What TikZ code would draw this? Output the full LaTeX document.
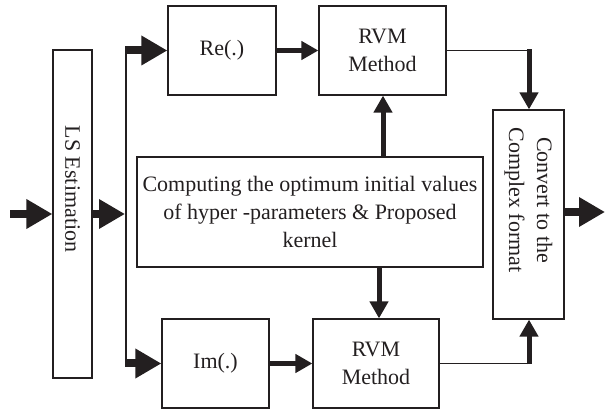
\documentclass[tikz,border=0pt]{standalone}
\usepackage{fontspec}
\setmainfont{Liberation Serif}
\usetikzlibrary{arrows.meta}
\definecolor{ink}{HTML}{231F20}
\begin{document}
\begin{tikzpicture}[x=1pt,y=-1pt,
  txt/.style={font=\fontsize{22}{28}\selectfont, text=ink, align=center, inner sep=0pt},
  box/.style={draw=ink, line width=1.2pt, inner sep=0pt, txt},
  bigarrow/.style={draw=ink, line width=8pt, -{Triangle[length=26pt,width=28pt]}},
  smallarrow/.style={draw=ink, line width=5pt, -{Triangle[length=17pt,width=18pt]}},
  thinline/.style={draw=ink, line width=1.2pt}]
\useasboundingbox (0,0) rectangle (605,411);

% boxes
\node[box, minimum width=39pt, minimum height=328pt] (ls) at (72.5,214) {};
\node[txt, rotate=-90] (lst) at (72.5,189) {LS Estimation};
\node[box, minimum width=108pt, minimum height=89pt] (re) at (222,50.5) {Re(.)};
\node[box, minimum width=127pt, minimum height=89pt] (rvm1) at (382.5,50.5) {RVM\\Method};
\node[box, minimum width=346pt, minimum height=110pt] (cmp) at (310,212)
  {Computing the optimum initial values\\of hyper -parameters \& Proposed\\kernel};
\node[box, minimum width=71pt, minimum height=209pt] (cv) at (528.5,214.5) {};
\node[txt, rotate=-90] (cvt) at (528.5,200) {Convert to the\\Complex format};
\node[box, minimum width=107pt, minimum height=89pt] (im) at (215.5,363.5) {Im(.)};
\node[box, minimum width=126pt, minimum height=89pt] (rvm2) at (376,363.5) {RVM\\Method};

% coordinates
\coordinate (in) at (10,214);
\coordinate (br) at (125,214);
\coordinate (bt) at (126,50.5);
\coordinate (bb) at (126,363.5);
\coordinate (bt0) at (126,46.5);
\coordinate (bb0) at (126,367.5);
\coordinate (c1) at (529,50.5);
\coordinate (c2) at (529,363.5);
\coordinate (out) at (605,212);

% connectors
\draw[bigarrow] (in) -- (in -| ls.west);
\draw[bigarrow] (ls.east |- br) -- (br);
\draw[thinline] (bt0) -- (bb0);
\draw[bigarrow] (bt) -- (re.west |- bt);
\draw[bigarrow] (bb) -- (im.west |- bb);
\draw[smallarrow] (re.east) -- (rvm1.west);
\draw[smallarrow] (im.east) -- (rvm2.west);
\draw[smallarrow] (cmp.north -| 383,0) -- (rvm1.south -| 383,0);
\draw[smallarrow] (cmp.south -| 379,0) -- (rvm2.north -| 379,0);
\draw[thinline] (rvm1.east) -- (c1);
\draw[smallarrow] ([yshift=1pt]c1) -- (cv.north -| c1);
\draw[thinline] (rvm2.east) -- (c2);
\draw[smallarrow] ([yshift=-1pt]c2) -- (cv.south -| c2);
\draw[bigarrow] (cv.east |- out) -- (out);
\end{tikzpicture}
\end{document}
